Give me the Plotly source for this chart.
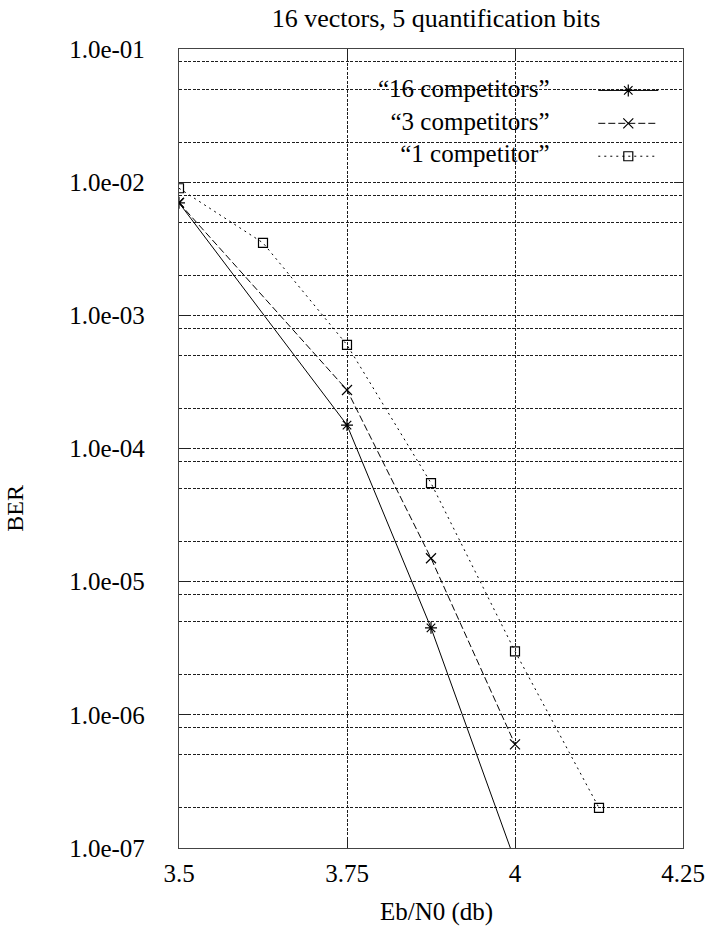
import plotly.graph_objects as go

# Eb/N0 (dB) sample points and measured bit error rates
EBN0_16 = [3.5, 3.75, 3.875, 4.0]
BER_16 = [7.0e-3, 1.5e-4, 4.5e-6, 8.0e-8]

EBN0_3 = [3.5, 3.75, 3.875, 4.0]
BER_3 = [7.0e-3, 2.75e-4, 1.5e-5, 6.0e-7]

EBN0_1 = [3.5, 3.625, 3.75, 3.875, 4.0, 4.125]
BER_1 = [9.0e-3, 3.5e-3, 6.0e-4, 5.5e-5, 3.0e-6, 2.0e-7]

SERIES_LABELS = ["\u201c16 competitors\u201d", "\u201c3 competitors\u201d", "\u201c1 competitor\u201d"]

X_TICKS = [3.5, 3.75, 4.0, 4.25]
X_TICK_TEXT = ["3.5", "3.75", "4", "4.25"]
Y_DECADES = [-7, -6, -5, -4, -3, -2, -1]
Y_TICK_TEXT = ["1.0e-07", "1.0e-06", "1.0e-05", "1.0e-04", "1.0e-03", "1.0e-02", "1.0e-01"]
Y_MINOR_MANTISSAS = [2, 5, 8]

FONT = "Liberation Serif, Tinos, Times New Roman, DejaVu Serif, serif"
GRID_DASH = "3px,1.5px"
GRID_COLOR = "#1e1e1e"

y_major = [10.0 ** d for d in Y_DECADES]
y_minor = [m * 10.0 ** d for d in Y_DECADES[:-1] for m in Y_MINOR_MANTISSAS]

fig = go.Figure()

styles = [
    dict(x=EBN0_16, y=BER_16, dash="solid", symbol="asterisk-open", size=10),
    dict(x=EBN0_3, y=BER_3, dash="7px,3px", symbol="x-thin-open", size=10),
    dict(x=EBN0_1, y=BER_1, dash="2px,4px", symbol="square-open", size=9),
]
for label, s in zip(SERIES_LABELS, styles):
    fig.add_trace(go.Scatter(
        x=s["x"], y=s["y"], mode="lines+markers", name="",
        hovertemplate=label + ": %{y:.1e}<extra></extra>",
        line=dict(color="black", width=1, dash=s["dash"]),
        marker=dict(symbol=s["symbol"], size=s["size"], color="black",
                    line=dict(color="black", width=1.2)),
    ))

fig.update_layout(
    width=717, height=928,
    margin=dict(l=179, r=23, t=49, b=80),
    paper_bgcolor="white", plot_bgcolor="white",
    font=dict(family=FONT, size=25, color="black"),
    showlegend=True,
    legend=dict(
        x=0.822, xanchor="left", y=0.975, yanchor="top",
        bgcolor="rgba(0,0,0,0)", borderwidth=0,
        font=dict(size=23), itemwidth=60, tracegroupgap=0,
    ),
    title=dict(
        text="16 vectors, 5 quantification bits",
        x=0.51, xref="paper", xanchor="center",
        y=1 - 18 / 928, yref="container", yanchor="middle",
        font=dict(family=FONT, size=26, color="black"),
    ),
    xaxis=dict(
        range=[3.5, 4.25], tickmode="array", tickvals=X_TICKS, ticktext=X_TICK_TEXT,
        showgrid=True, gridcolor=GRID_COLOR, griddash=GRID_DASH, gridwidth=1,
        showline=True, linecolor="#444", linewidth=1.3, mirror="ticks",
        ticks="inside", ticklen=9, tickcolor="#222", tickwidth=1,
        ticklabelstandoff=3, zeroline=False,
    ),
    yaxis=dict(
        type="log", range=[-7, -1], tickmode="array", tickvals=y_major, ticktext=Y_TICK_TEXT,
        showgrid=True, gridcolor=GRID_COLOR, griddash=GRID_DASH, gridwidth=1,
        minor=dict(tickmode="array", tickvals=y_minor, showgrid=True,
                   gridcolor=GRID_COLOR, griddash=GRID_DASH, gridwidth=1, ticks=""),
        showline=True, linecolor="#444", linewidth=1.3, mirror="ticks",
        ticks="inside", ticklen=9, tickcolor="#222", tickwidth=1,
        ticklabelstandoff=28, zeroline=False,
    ),
    shapes=[dict(
        type="rect", xref="paper", yref="paper", layer="between",
        x0=0.336, x1=0.775, y0=0.842, y1=0.9675,
        fillcolor="white", line=dict(width=0),
    )],
    annotations=[
        dict(text="<br>".join(SERIES_LABELS), xref="paper", yref="paper",
             x=0.738, y=0.910, xanchor="right", yanchor="middle", align="right",
             showarrow=False, font=dict(family=FONT, size=25, color="black")),
        dict(text="BER", xref="paper", yref="paper", x=-0.326, y=0.4255,
             xanchor="center", yanchor="middle", textangle=-90, showarrow=False,
             font=dict(family=FONT, size=24, color="black")),
        dict(text="Eb/N0 (db)", xref="paper", yref="paper", x=0.51, y=-0.080,
             xanchor="center", yanchor="middle", showarrow=False,
             font=dict(family=FONT, size=25, color="black")),
    ],
)

fig.write_html("out.html")
